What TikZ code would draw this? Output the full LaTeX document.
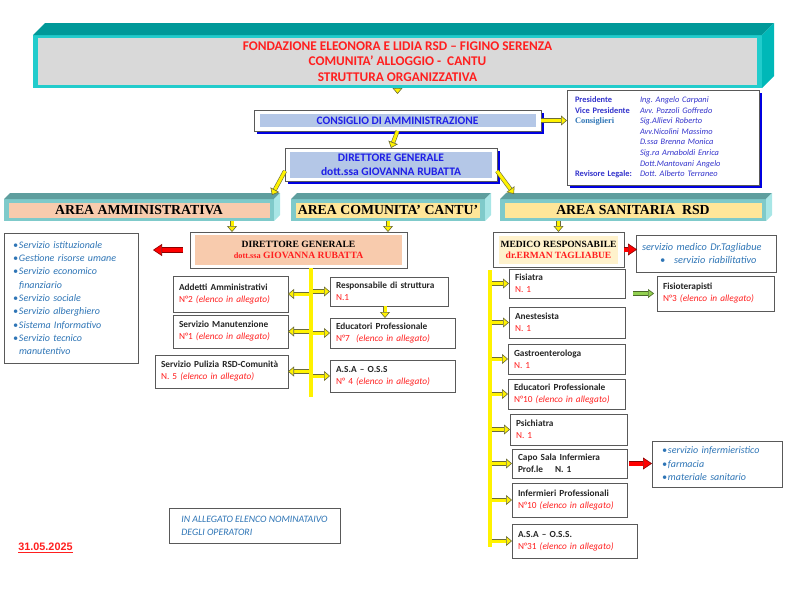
\documentclass[tikz,border=0pt]{standalone}
\usepackage{fontspec}
\setmainfont{Carlito}
\newfontfamily\timesface{Liberation Serif}
\newfontfamily\arialface{Liberation Sans}
\usepackage{xcolor}
\usepackage{tikz}
\usetikzlibrary{arrows.meta,positioning,calc,shadows}
\definecolor{tealtop}{HTML}{009999}
\definecolor{tealfront}{HTML}{22CCCC}
\definecolor{tealside}{HTML}{00B8B8}
\definecolor{areatop}{HTML}{5E9E9E}
\definecolor{areafront}{HTML}{7FCACA}
\definecolor{areaside}{HTML}{A8E6E6}
\definecolor{panelgray}{HTML}{D9D9D9}
\definecolor{salmon}{HTML}{F8CBAD}
\definecolor{areayellow}{HTML}{FFE699}
\definecolor{paleyellow}{HTML}{FFF2CC}
\definecolor{paleblue}{HTML}{B4C7E7}
\definecolor{boxgray}{HTML}{595959}
\definecolor{redtxt}{HTML}{FF1F1F}
\definecolor{bluetxt}{HTML}{1F1FE6}
\definecolor{infoblue}{HTML}{3333CC}
\definecolor{listblue}{HTML}{2E75B6}
\definecolor{darktxt}{HTML}{262626}
\definecolor{arrline}{HTML}{6B6B3A}
\definecolor{arrred}{HTML}{8B0000}
\definecolor{arrgreen}{HTML}{92D050}
\definecolor{shadowblue}{HTML}{0000E0}
\newcommand{\nstaff}[1]{{\mdseries\color{redtxt}#1}}
\newcommand{\li}{\makebox[6pt][l]{\textbullet}}
\newcommand{\bevelbox}[4]{%
  \fill[#3] (#1.north west) -- ++(#2,-#2) -- ($(#1.north east)+(#2,-#2)$) -- (#1.north east) -- cycle;
  \fill[#4] (#1.north east) -- ++(#2,-#2) -- ($(#1.south east)+(#2,-#2)$) -- (#1.south east) -- cycle;}
\frenchspacing

\begin{document}
\begin{tikzpicture}[
x=1pt, y=-1pt,
every node/.style={outer sep=0pt},
frame/.style={draw=boxgray, line width=0.9pt, fill=white, inner sep=0pt},
panel/.style={inner sep=0pt, align=center},
unit/.style={draw=boxgray, line width=0.9pt, fill=white, anchor=north west, align=left,
  inner xsep=6pt, inner ysep=1pt, text=darktxt, font=\fontsize{9.3}{12}\selectfont\bfseries},
note/.style={draw=boxgray, line width=0.9pt, fill=white, align=left, text=listblue,
  font=\fontsize{10}{13.3}\selectfont\itshape},
areaname/.style={panel, minimum height=15pt, font=\timesface\bfseries\fontsize{13.8}{15}\selectfont},
blueshadow/.style={drop shadow={shadow xshift=3pt, shadow yshift=-3pt, fill=shadowblue, opacity=1}},
yarr/.style={draw=arrline, double=yellow, double distance=3pt, line width=0.6pt,
  -{Triangle[length=6pt, width=10pt, fill=yellow, color=arrline, line width=0.6pt]}},
ybus/.style={draw=arrline, double=yellow, double distance=3.6pt, line width=0.6pt},
rarr/.style={draw=arrred, double=red, double distance=4pt, line width=0.6pt,
  -{Triangle[length=9pt, width=12pt, fill=red, color=arrred, line width=0.6pt]}},
garr/.style={draw=arrgreen!50!black, double=arrgreen, double distance=3pt, line width=0.6pt,
  -{Triangle[length=6pt, width=9pt, fill=arrgreen, color=arrgreen!50!black, line width=0.6pt]}}
]
\useasboundingbox (0,0) rectangle (800,600);

% title
\node[inner sep=0pt, fill=tealfront, minimum width=729pt, minimum height=53pt] (ttl) at (397.5,61.5) {};
\node[panel, fill=panelgray, minimum width=719pt, minimum height=47pt, text=redtxt,
  font=\fontsize{13.3}{15.5}\selectfont\bfseries] (ttltxt) at (ttl) {FONDAZIONE ELEONORA E LIDIA RSD -- FIGINO SERENZA\\
  COMUNITA’ ALLOGGIO -\ \ CANTU\\ STRUTTURA ORGANIZZATIVA};
\bevelbox{ttl}{12}{tealtop}{tealside}

% board
\node[frame, blueshadow, minimum width=287pt, minimum height=21pt] (cons) at (397.5,120.5) {};
\node[panel, fill=paleblue, minimum width=276pt, minimum height=13pt, text=bluetxt,
  font=\fontsize{11.4}{13}\selectfont\bfseries] (constxt) at (cons) {CONSIGLIO DI AMMINISTRAZIONE};
\node[frame, blueshadow, anchor=north west, minimum width=192pt, minimum height=95pt, inner xsep=8pt,
  text width=176pt, align=left, text=infoblue, font=\fontsize{8.4}{10.6}\selectfont] (info) at (567,90) {%
  \begin{tabular}{@{}p{65pt}@{}l@{}}
  \textbf{Presidente} & \textit{Ing. Angelo Carpani}\\
  \textbf{Vice Presidente} & \textit{Avv. Pozzoli Goffredo}\\
  \textcolor{listblue}{\timesface\bfseries Consiglieri} & \textit{Sig.Allievi Roberto}\\
  & \textit{Avv.Nicolini Massimo}\\
  & \textit{D.ssa Brenna Monica}\\
  & \textit{Sig.ra Arnaboldi Enrica}\\
  & \textit{Dott.Mantovani Angelo}\\
  \textbf{Revisore Legale:} & \textit{Dott. Alberto Terraneo}
  \end{tabular}};
\node[frame, blueshadow, minimum width=212pt, minimum height=33pt] (dgt) at (391,164.5) {};
\node[panel, fill=paleblue, minimum width=202pt, minimum height=26pt, text=bluetxt,
  font=\fontsize{11.5}{14}\selectfont\bfseries] (dgttxt) at (dgt) {DIRETTORE GENERALE\\ dott.ssa GIOVANNA RUBATTA};

% areas
\node[inner sep=0pt, fill=areafront, minimum width=270pt, minimum height=22pt] (amm) at (139,210) {};
\node[areaname, fill=salmon, minimum width=261pt] (ammtxt) at (amm) {AREA AMMINISTRATIVA};
\node[inner sep=0pt, fill=areafront, minimum width=194pt, minimum height=22pt] (com) at (388,210) {};
\node[areaname, fill=areayellow, minimum width=184pt] (comtxt) at (com) {AREA COMUNITA’ CANTU’};
\node[inner sep=0pt, fill=areafront, minimum width=266pt, minimum height=22pt] (san) at (633,210) {};
\node[areaname, fill=areayellow, minimum width=257pt] (santxt) at (san) {AREA SANITARIA\ \ RSD};
\bevelbox{amm}{6}{areatop}{areaside}
\bevelbox{com}{6}{areatop}{areaside}
\bevelbox{san}{6}{areatop}{areaside}

% directors
\node[frame, minimum width=217pt, minimum height=36pt] (dgc) at (298.5,250) {};
\node[panel, fill=salmon, minimum width=207pt, minimum height=30pt,
  font=\timesface\bfseries\fontsize{9.6}{11.5}\selectfont] (dgctxt) at (dgc) {DIRETTORE GENERALE\\
  {\color{redtxt}{\fontsize{8.3}{11.5}\selectfont dott.ssa} GIOVANNA RUBATTA}};
\node[frame, minimum width=131pt, minimum height=35pt] (med) at (558.5,249.5) {};
\node[panel, fill=paleyellow, minimum width=119pt, minimum height=28pt,
  font=\timesface\bfseries\fontsize{9.5}{11}\selectfont] (medtxt) at (med) {MEDICO RESPONSABILE\\
  {\color{redtxt}dr.ERMAN TAGLIABUE}};

% notes
\node[note, anchor=north west, minimum height=130pt, text width=116pt, inner xsep=9pt] (svc) at (4,233) {%
  \li Servizio istituzionale\\ \li Gestione risorse umane\\ \li Servizio economico\\
  \hspace*{6pt}finanziario\\ \li Servizio sociale\\ \li Servizio alberghiero\\
  \li Sistema Informativo\\ \li Servizio tecnico\\ \hspace*{6pt}manutentivo};
\node[note, anchor=north west, minimum height=37pt, text width=132pt, inner xsep=4pt,
  font=\fontsize{10.3}{13}\selectfont\itshape] (smed) at (636,235) {%
  \hspace*{2pt}servizio medico Dr.Tagliabue\\ \hspace*{20pt}\textbullet\hspace{9pt}servizio riabilitativo};
\node[note, anchor=north west, minimum height=46pt, text width=110pt, inner xsep=10pt,
  font=\fontsize{10}{13.5}\selectfont\itshape] (infl) at (652,441) {%
  \li servizio infermieristico\\ \li farmacia\\ \li materiale sanitario};
\node[note, minimum width=171pt, minimum height=35pt, font=\fontsize{9.8}{13}\selectfont\itshape] (alleg) at (254.5,525.5) {%
  IN ALLEGATO ELENCO NOMINATAIVO\\ DEGLI OPERATORI};
\node[text=redtxt, font=\arialface\bfseries\fontsize{10.8}{12}\selectfont] (date) at (45.5,548) {\underline{31.05.2025}};

% community staff
\node[unit, text width=103pt, minimum height=36pt] (adm) at (173,276) {Addetti Amministrativi\\ \nstaff{N°2 \textit{(elenco in allegato)}}};
\node[unit, text width=103pt, minimum height=33pt] (man) at (173,315) {Servizio Manutenzione\\ \nstaff{N°1 \textit{(elenco in allegato)}}};
\node[unit, text width=121pt, minimum height=33pt] (pul) at (155,355) {Servizio Pulizia RSD-Comunità\\ \nstaff{N. 5 \textit{(elenco in allegato)}}};
\node[unit, text width=106pt, minimum height=29pt] (resp) at (330,277) {Responsabile di struttura\\ \nstaff{N.1}};
\node[unit, text width=113pt, minimum height=30pt] (edu) at (330,318) {Educatori Professionale\\ \nstaff{N°7\ \ \textit{(elenco in allegato)}}};
\node[unit, text width=113pt, minimum height=32pt] (asa) at (330,360) {A.S.A -- O.S.S\\ \nstaff{N° 4 \textit{(elenco in allegato)}}};

% health staff
\node[unit, text width=104pt, minimum height=29pt] (fis) at (509,269) {Fisiatra\\ \nstaff{N. 1}};
\node[unit, text width=104pt, minimum height=31pt] (ane) at (509,307) {Anestesista\\ \nstaff{N. 1}};
\node[unit, text width=105pt, minimum height=30pt] (gas) at (508,344) {Gastroenterologa\\ \nstaff{N. 1}};
\node[unit, text width=105pt, minimum height=30pt] (eps) at (508,379) {Educatori Professionale\\ \nstaff{N°10 \textit{(elenco in allegato)}}};
\node[unit, text width=105pt, minimum height=31pt] (psi) at (510,414) {Psichiatra\\ \nstaff{N. 1}};
\node[unit, text width=103pt, minimum height=29pt] (capo) at (512,449) {Capo Sala Infermiera\\ Prof.le\hspace{12pt}N. 1};
\node[unit, text width=103pt, minimum height=34pt] (inf) at (512,483) {Infermieri Professionali\\ \nstaff{N°10 \textit{(elenco in allegato)}}};
\node[unit, text width=113pt, minimum height=34pt] (asas) at (512,524) {A.S.A -- O.S.S.\\ \nstaff{N°31 \textit{(elenco in allegato)}}};
\node[unit, text width=105pt, minimum height=35pt] (fisio) at (657,276) {Fisioterapisti\\ \nstaff{N°3 \textit{(elenco in allegato)}}};

% arrows
\draw[yarr] (ttl.south -| cons.north) -- ++(0,6);
\draw[yarr] (cons.south) -- (dgt.north);
\draw[yarr] (cons.east) -- (cons.east -| info.west);
\draw[yarr] ($(dgt.south west)+(0,-10)$) -- ($(amm.north east)+(-2,-4)$);
\draw[yarr] ($(dgt.south east)+(0,-10)$) -- ($(san.north west)+(14,-5)$);
\coordinate (ammdrop) at (232,221);
\draw[yarr] (ammdrop) -- (ammdrop |- dgc.north);
\draw[yarr] (com.south) -- (com.south |- dgc.north);
\draw[yarr] (san.south -| med.north) -- (med.north);
\draw[rarr, shorten <=7pt, shorten >=15pt] (dgc.west) -- (dgc.west -| svc.east);
\draw[rarr, shorten >=-1pt] (med.east) -- (med.east -| smed.west);
\draw[rarr, shorten <=2pt] (capo.east) -- (capo.east -| infl.west);
\draw[garr, shorten <=8pt, shorten >=3pt] (fisio.west -| fis.east) -- (fisio.west);

\coordinate (busA) at (311,397);
\foreach \n in {adm,man,pul} \draw[yarr] (busA |- \n.east) -- (\n.east);
\foreach \n in {resp,edu,asa} \draw[yarr] (busA |- \n.west) -- (\n.west);
\draw[yarr] (resp.south -| 385,0) -- (edu.north -| 385,0);
\draw[ybus] (busA |- dgc.south) -- (busA);

\coordinate (busBtop) at (490,270);
\coordinate (busB) at (490,547);
\foreach \n in {fis,ane,gas,eps,psi,capo,inf,asas} \draw[yarr] (busB |- \n.west) -- (\n.west);
\draw[ybus] (busBtop) -- (busB);
\end{tikzpicture}
\end{document}
